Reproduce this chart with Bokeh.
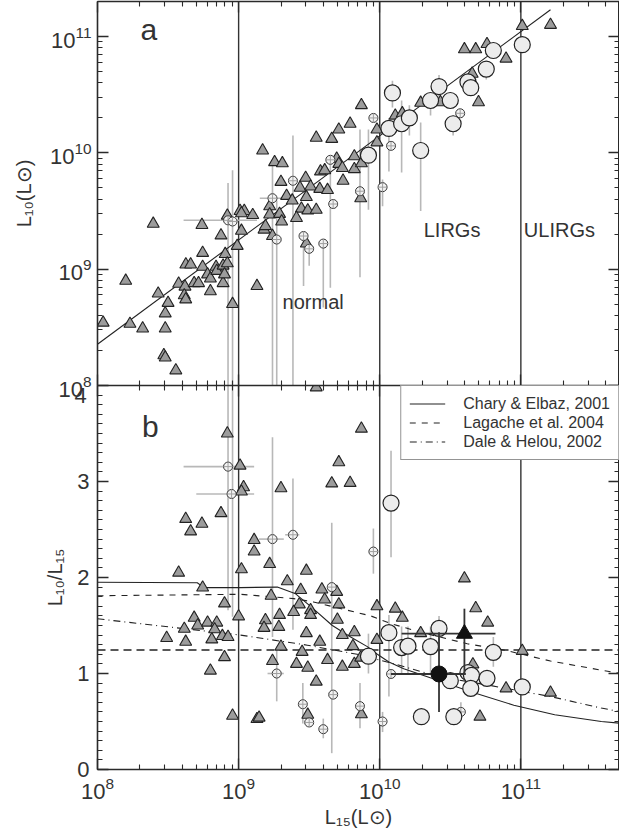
import numpy as np
from bokeh.plotting import figure
from bokeh.models import (LogAxis, LinearAxis, Range1d, FixedTicker, Title,
                          Label, Legend, LegendItem, CustomJSTickFormatter)
from bokeh.layouts import column
from bokeh.embed import file_html
from bokeh.resources import INLINE

FONT = "Liberation Sans"
INK = "#2a2a2a"
TXT = "#333333"

# ---------------- data (log10 luminosities) ----------------
# panel a: L10 vs L15, triangles
tri_a_log15 = [8.04, 8.20, 8.23, 8.32, 8.395, 8.43, 8.48, 8.48, 8.50, 8.47,
               8.48, 8.555, 8.575, 8.62, 8.615, 8.625, 8.626, 8.66, 8.685, 8.716,
               8.74, 8.745, 8.745, 8.78, 8.80, 8.80, 8.84, 8.845, 8.875, 8.89,
               8.89, 8.90, 8.905, 8.92, 8.92, 8.957, 8.99, 9.01, 9.04, 9.02,
               9.02, 9.10, 9.13,
               9.17, 9.255, 9.31, 9.30, 9.34, 9.38, 9.435, 9.475, 9.51, 9.48,
               9.445, 9.49, 9.55, 9.575, 9.63, 9.58, 9.61, 9.55, 9.66, 9.71,
               9.79, 9.87, 9.695, 9.71, 9.735, 9.74, 9.82, 9.82, 9.87, 9.865,
               9.98, 9.98, 9.22, 9.22, 9.18, 9.19, 9.24, 9.29, 9.305, 9.41,
               9.48,
               10.11, 10.16, 10.29, 10.43, 10.60, 10.68, 10.76, 10.655, 10.70, 10.895,
               11.01, 11.21]
tri_a_log10 = [8.54, 8.90, 8.53, 8.49, 9.39, 8.79, 8.49, 8.62, 8.71, 8.26,
               8.24, 8.13, 8.875, 8.85, 8.775, 8.74, 9.04, 9.04, 8.88, 8.88,
               9.38, 9.14, 9.02, 8.955, 8.92, 8.81, 9.02, 8.985, 9.29, 9.03,
               8.88, 8.955, 9.13, 9.05, 9.46, 8.70, 9.20, 9.50, 9.50, 9.33,
               9.48, 9.465, 8.855,
               10.02, 9.92, 9.91, 9.75, 9.63, 9.59, 9.70, 9.785, 9.71, 9.62,
               9.52, 9.505, 9.51, 9.69, 9.68, 9.84, 9.85, 10.13, 10.12, 10.20,
               10.25, 10.41, 9.95, 9.905, 9.87, 9.76, 9.97, 9.86, 9.91, 9.61,
               10.20, 10.09, 9.54, 9.47, 9.34, 9.37, 9.285, 9.475, 9.41, 9.44,
               9.22,
               10.32, 10.34, 10.43, 10.435, 10.89, 10.89, 10.935, 10.68, 10.435, 10.81,
               11.09, 11.10]
# panel a: small circles
circ_a_log15 = [8.925, 8.957, 9.24, 9.385, 9.65, 9.67, 9.86, 9.955, 10.02, 9.46, 9.50, 9.60, 9.27, 10.08, 10.57]
circ_a_log10 = [9.42, 9.41, 9.61, 9.76, 9.94, 9.56, 9.67, 10.30, 9.705, 9.285, 9.175, 9.22, 9.255, 10.06, 10.34]
# panel a: large circles
big_a_log15 = [10.09, 10.065, 10.155, 10.21, 10.29, 10.36, 10.42, 10.50, 10.52, 10.625, 10.645, 10.755, 10.805, 11.01, 9.92]
big_a_log10 = [10.515, 10.21, 10.25, 10.30, 10.02, 10.45, 10.57, 10.45, 10.25, 10.61, 10.56, 10.72, 10.88, 10.93, 9.98]
# panel a: error bars
vbar_a_log15 = [8.925, 8.957, 9.24, 9.27, 9.385, 9.46, 9.50, 9.60, 9.65, 9.86, 9.92, 10.02, 10.065, 10.155,
                10.21, 10.29, 10.36, 10.42, 10.52, 10.755, 10.09]
vbar_a_lo = [7.5, 7.5, 7.5, 7.5, 7.5, 8.855, 9.03, 8.67, 8.84, 8.93, 9.51, 9.54, 9.84, 9.83,
             10.15, 9.50, 10.32, 10.47, 10.15, 10.63, 10.39]
vbar_a_hi = [9.74, 9.85, 9.89, 9.59, 10.15, 9.30, 9.20, 9.21, 9.96, 10.20, 10.20, 9.77, 10.30, 10.45,
             10.41, 10.26, 10.50, 10.67, 10.32, 10.76, 10.62]
hbar_a_log10 = [9.42, 9.61]
hbar_a_lo = [8.61, 9.15]
hbar_a_hi = [9.13, 9.33]
# panel a: fitted relation
fit_log15 = [8.0, 11.21]
fit_log10 = [8.355, 11.23]

# panel b: L10/L15 vs L15
tri_b_log15 = [8.92, 9.01, 9.035, 9.02, 8.875, 8.625, 8.66, 8.74, 9.11, 9.11,
               8.575, 9.02, 8.745, 8.90, 9.00, 8.685, 8.71, 8.78, 8.845, 8.83,
               8.615, 8.49, 8.625, 8.81, 8.885, 8.925, 8.90, 8.80, 8.957, 9.13,
               9.87, 9.71, 9.66, 9.79, 9.30, 9.22, 9.48, 9.345, 9.44, 9.59,
               9.695, 9.23, 9.61, 9.43, 9.71, 9.39, 9.51, 9.51, 9.29, 9.19,
               9.70, 9.285, 9.18, 9.48, 9.82, 9.735, 9.575, 9.30, 9.45, 9.81,
               9.98, 9.98, 9.24, 9.41, 9.49, 9.63, 9.735, 9.82, 9.865, 9.55,
               9.145, 9.49, 9.87, 9.55,
               10.11, 10.16, 10.29, 10.60, 10.68, 10.765, 11.01, 10.66, 10.895, 11.21, 10.71]
tri_b_ratio = [3.50, 3.165, 2.94, 2.895, 2.67, 2.61, 2.48, 2.56, 2.39, 2.27,
               2.05, 2.085, 1.895, 1.73, 1.595, 1.58, 1.50, 1.53, 1.53, 1.46,
               1.465, 1.37, 1.33, 1.355, 1.39, 1.38, 1.17, 1.03, 0.56, 0.525,
               3.55, 3.20, 2.98, 2.985, 2.93, 2.14, 2.07, 1.96, 1.87, 1.875,
               1.85, 1.81, 1.77, 1.72, 1.72, 1.64, 1.66, 1.61, 1.61, 1.555,
               1.56, 1.485, 1.475, 1.42, 1.43, 1.40, 1.33, 1.28, 1.225, 1.285,
               1.35, 1.70, 1.13, 1.10, 1.06, 1.14, 1.07, 1.10, 1.165, 0.915,
               0.54, 0.57, 0.575, 3.98,
               1.675, 1.58, 1.42, 1.99, 1.68, 1.53, 1.235, 1.095, 0.845, 0.80, 0.55]
circ_b_log15 = [8.925, 8.95, 9.24, 9.385, 9.66, 9.955, 9.27, 9.455, 9.67, 9.86, 9.50, 9.60, 10.02, 10.08, 10.575]
circ_b_ratio = [3.155, 2.87, 2.40, 2.445, 1.90, 2.27, 1.00, 0.68, 0.78, 0.66, 0.49, 0.42, 0.50, 0.995, 0.60]
big_b_log15 = [10.08, 10.065, 10.155, 10.20, 10.36, 10.42, 10.805, 10.50, 10.625, 10.65, 10.645, 10.76, 11.01,
               10.295, 10.525, 9.92]
big_b_ratio = [2.775, 1.425, 1.27, 1.285, 1.28, 1.47, 1.22, 0.925, 1.01, 0.98, 0.845, 0.95, 0.86, 0.55, 0.55, 1.18]
vbar_b_log15 = [8.925, 8.957, 9.24, 9.385, 9.66, 9.955, 9.27, 9.455, 9.86, 9.60, 10.02, 9.92, 10.08, 10.065,
                10.155, 10.20, 10.36, 10.805, 10.575, 10.42]
vbar_b_lo = [1.66, 1.59, 1.38, 1.455, 0.17, 2.04, 0.71, 0.48, 0.43, 0.325, 0.39, 1.00, 2.21, 0.76,
             1.00, 1.00, 1.00, 1.07, 0.55, 1.20]
vbar_b_hi = [4.2, 4.2, 3.46, 3.03, 2.57, 2.51, 1.28, 0.90, 0.90, 0.53, 0.60, 1.415, 3.32, 1.61,
             1.49, 1.49, 1.49, 1.38, 0.70, 1.60]
hbar_b_ratio = [3.155, 2.87, 2.40, 2.445, 1.00]
hbar_b_lo = [8.61, 8.70, 9.145, 9.33, 9.205]
hbar_b_hi = [9.11, 9.11, 9.32, 9.43, 9.32]
# mean points (black) with errors: [value, low, high]
mean_circ_log15 = [10.42, 10.08, 10.61]
mean_circ_ratio = [0.995, 0.60, 1.43]
mean_tri_log15 = [10.60, 10.155, 10.82]
mean_tri_ratio = [1.415, 1.00, 1.675]
# model curves
ce_log15 = [8.0, 8.707, 8.754, 9.014, 9.274, 9.404, 9.51, 9.664, 9.794, 9.912, 9.983, 10.065, 10.17,
            10.41, 10.645, 10.95, 11.24, 11.57, 11.716]
ce_ratio = [1.95, 1.945, 1.895, 1.895, 1.90, 1.83, 1.70, 1.50, 1.38, 1.28, 1.20, 1.12, 1.05,
            0.93, 0.81, 0.67, 0.57, 0.50, 0.48]
lag_log15 = [8.0, 9.014, 9.39, 9.53, 9.936, 10.078, 10.29, 10.62, 10.88, 11.21, 11.57, 11.71]
lag_ratio = [1.81, 1.825, 1.78, 1.745, 1.60, 1.52, 1.43, 1.31, 1.245, 1.13, 1.035, 1.00]
dh_log15 = [8.0, 9.014, 9.487, 9.84, 10.08, 10.41, 10.765, 11.21, 11.57, 11.71]
dh_ratio = [1.57, 1.40, 1.295, 1.20, 1.11, 0.97, 0.88, 0.76, 0.64, 0.60]
mean_ratio_level = 1.245
class_limits = [1e9, 1e10, 1e11]
class_names = ["normal", "LIRGs", "ULIRGs"]
legend_labels = ["Chary & Elbaz, 2001", "Lagache et al. 2004", "Dale & Helou, 2002"]


def lin(a):
    return (10.0 ** np.asarray(a, dtype=float)).tolist()


X_LO, X_HI = 1e8, 5e11
Y_LO, Y_HI = 1e8, 2e11
R_LO, R_HI = 0.0, 4.0
x_range = Range1d(X_LO, X_HI)

log_minor = [m * 10.0 ** e for e in range(8, 12) for m in range(2, 10)]
x_ticker = FixedTicker(ticks=[1e8, 1e9, 1e10, 1e11], minor_ticks=log_minor)
ya_ticker = FixedTicker(ticks=[1e8, 1e9, 1e10, 1e11], minor_ticks=log_minor)
yb_ticker = FixedTicker(ticks=[0, 1, 2, 3, 4], minor_ticks=[i / 10 for i in range(0, 41)])

LEFT = 97
FW = 522
FH_TOP = 384
FH_BOT = 384
OVERLAP = 40
TICK_FS = "22px"


def style_axis(ax, labels=True):
    ax.major_tick_in = 11
    ax.major_tick_out = 0
    ax.minor_tick_in = 5
    ax.minor_tick_out = 0
    ax.axis_line_color = INK
    ax.axis_line_width = 1.6
    ax.major_tick_line_color = INK
    ax.minor_tick_line_color = INK
    ax.major_tick_line_width = 1.3
    ax.minor_tick_line_width = 1.1
    ax.major_label_text_font = FONT
    ax.major_label_text_font_size = TICK_FS
    ax.major_label_text_color = TXT
    ax.axis_label_text_font = FONT
    ax.axis_label_text_font_size = "20px"
    ax.axis_label_text_font_style = "normal"
    ax.axis_label_text_color = TXT
    if not labels:
        ax.formatter = CustomJSTickFormatter(code="return ''")
        ax.major_label_text_font_size = "1px"
        ax.major_label_standoff = 0
        ax.axis_label_standoff = 0


# ---------------- panel a ----------------
top = figure(frame_width=FW, frame_height=FH_TOP, x_axis_type="log", y_axis_type="log",
             x_range=x_range, y_range=Range1d(Y_LO, Y_HI),
             output_backend="svg", toolbar_location=None,
             min_border_left=LEFT, min_border_right=0, min_border_top=1, min_border_bottom=OVERLAP)
top.grid.visible = False
top.outline_line_color = INK
top.xaxis.ticker = x_ticker
top.yaxis.ticker = ya_ticker
style_axis(top.xaxis[0], labels=False)
style_axis(top.yaxis[0])
top.yaxis.axis_label = "L₁₀(L⊙)"
top.yaxis.major_label_standoff = 6
top.yaxis.axis_label_standoff = 12
ax = LogAxis(ticker=x_ticker)
style_axis(ax, labels=False)
top.add_layout(ax, "above")
ax = LogAxis(ticker=ya_ticker)
style_axis(ax, labels=False)
top.add_layout(ax, "right")
# top value ("4") of the ratio axis of panel b, drawn just under the panel boundary
top.add_layout(Title(text="4", align="left", offset=-23, standoff=0, text_font=FONT,
                     text_font_size=TICK_FS, text_font_style="normal", text_color=TXT), "below")

for xv in class_limits:
    top.segment(x0=[xv], y0=[Y_LO], x1=[xv], y1=[Y_HI], line_color="#333333", line_width=1.4)

top.segment(x0=lin(vbar_a_log15), y0=lin(vbar_a_lo), x1=lin(vbar_a_log15), y1=lin(vbar_a_hi),
            line_color="#b8b8b8", line_width=1.6)
top.segment(x0=lin(hbar_a_lo), y0=lin(hbar_a_log10), x1=lin(hbar_a_hi), y1=lin(hbar_a_log10),
            line_color="#b8b8b8", line_width=1.6)
top.line(lin(fit_log15), lin(fit_log10), line_color="#222222", line_width=1.1)

top.scatter(lin(tri_a_log15), lin(tri_a_log10), marker="triangle", size=12,
            fill_color="#9c9c9c", line_color="#222222", line_width=1.1)
top.scatter(lin(circ_a_log15), lin(circ_a_log10), marker="circle", size=9,
            fill_color="#f2f2f2", line_color="#333333", line_width=1.0)
top.scatter(lin(circ_a_log15), lin(circ_a_log10), marker="cross", size=9,
            line_color="#a0a0a0", line_width=1.0)
top.scatter(lin(big_a_log15), lin(big_a_log10), marker="circle", size=16,
            fill_color="#ececec", line_color="#222222", line_width=1.2)

top.add_layout(Label(x=2.02e8, y=8.3e10, text="a", text_font=FONT, text_font_size="30px",
                     text_color=TXT))
top.add_layout(Label(x=2.05e9, y=4.2e8, text=class_names[0], text_font=FONT, text_font_size="20px",
                     text_color=TXT))
top.add_layout(Label(x=2.05e10, y=1.74e9, text=class_names[1], text_font=FONT, text_font_size="20px",
                     text_color=TXT))
top.add_layout(Label(x=1.05e11, y=1.74e9, text=class_names[2], text_font=FONT, text_font_size="20px",
                     text_color=TXT))

# ---------------- panel b ----------------
bot = figure(frame_width=FW, frame_height=FH_BOT, x_axis_type="log",
             x_range=x_range, y_range=Range1d(R_LO, R_HI),
             output_backend="svg", toolbar_location=None,
             min_border_left=LEFT, min_border_right=0, min_border_top=0, min_border_bottom=0)
bot.margin = (-OVERLAP, 0, 0, 0)
bot.border_fill_alpha = 0.0
bot.grid.visible = False
bot.outline_line_color = INK
bot.xaxis.ticker = x_ticker
bot.yaxis.ticker = yb_ticker
style_axis(bot.xaxis[0])
style_axis(bot.yaxis[0])
bot.yaxis.formatter = CustomJSTickFormatter(code="return tick > 3.99 ? '' : tick.toFixed(0)")
bot.xaxis.axis_label = "L₁₅(L⊙)"
bot.yaxis.axis_label = "L₁₀/L₁₅"
bot.xaxis.major_label_standoff = 7
bot.xaxis.axis_label_standoff = 4
bot.yaxis.major_label_standoff = 8
bot.yaxis.axis_label_standoff = 8
ax = LogAxis(ticker=x_ticker)
style_axis(ax, labels=False)
bot.add_layout(ax, "above")
ax = LinearAxis(ticker=yb_ticker)
style_axis(ax, labels=False)
bot.add_layout(ax, "right")

for xv in class_limits:
    bot.segment(x0=[xv], y0=[R_LO], x1=[xv], y1=[R_HI], line_color="#333333", line_width=1.4)

bot.segment(x0=lin(vbar_b_log15), y0=vbar_b_lo, x1=lin(vbar_b_log15), y1=vbar_b_hi,
            line_color="#b8b8b8", line_width=1.6)
bot.segment(x0=lin(hbar_b_lo), y0=hbar_b_ratio, x1=lin(hbar_b_hi), y1=hbar_b_ratio,
            line_color="#b8b8b8", line_width=1.6)

bot.segment(x0=[X_LO], y0=[mean_ratio_level], x1=[X_HI], y1=[mean_ratio_level],
            line_color="#222222", line_width=1.4, line_dash="8 5")
r_ce = bot.line(lin(ce_log15), ce_ratio, line_color="#222222", line_width=1.1)
r_lag = bot.line(lin(lag_log15), lag_ratio, line_color="#222222", line_width=1.1, line_dash="6 6")
r_dh = bot.line(lin(dh_log15), dh_ratio, line_color="#222222", line_width=1.1, line_dash="7 4 1 4")

bot.scatter(lin(tri_b_log15), tri_b_ratio, marker="triangle", size=12,
            fill_color="#9c9c9c", line_color="#222222", line_width=1.1)
bot.scatter(lin(circ_b_log15), circ_b_ratio, marker="circle", size=9,
            fill_color="#f2f2f2", line_color="#333333", line_width=1.0)
bot.scatter(lin(circ_b_log15), circ_b_ratio, marker="cross", size=9,
            line_color="#a0a0a0", line_width=1.0)
bot.scatter(lin(big_b_log15), big_b_ratio, marker="circle", size=16,
            fill_color="#ececec", line_color="#222222", line_width=1.2)

mc = lin(mean_circ_log15)
mt = lin(mean_tri_log15)
bot.segment(x0=[mc[1], mc[0], mt[1], mt[0]],
            y0=[mean_circ_ratio[0], mean_circ_ratio[1], mean_tri_ratio[0], mean_tri_ratio[1]],
            x1=[mc[2], mc[0], mt[2], mt[0]],
            y1=[mean_circ_ratio[0], mean_circ_ratio[2], mean_tri_ratio[0], mean_tri_ratio[2]],
            line_color="#333333", line_width=1.8)
bot.scatter([mc[0]], [mean_circ_ratio[0]], marker="circle", size=16, fill_color="#111111",
            line_color="#111111")
bot.scatter([mt[0]], [mean_tri_ratio[0]], marker="triangle", size=16, fill_color="#111111",
            line_color="#111111")

bot.add_layout(Label(x=2.07e8, y=3.40, text="b", text_font=FONT, text_font_size="30px",
                     text_color=TXT))

legend = Legend(items=[LegendItem(label=legend_labels[0], renderers=[r_ce]),
                       LegendItem(label=legend_labels[1], renderers=[r_lag]),
                       LegendItem(label=legend_labels[2], renderers=[r_dh])],
                location="top_right", margin=0, padding=8, spacing=0,
                glyph_width=36, glyph_height=19, label_height=19, label_standoff=18,
                label_text_font=FONT, label_text_font_size="16px", label_text_color=TXT,
                border_line_color=INK, border_line_width=1.5,
                background_fill_color="white", background_fill_alpha=1.0)
bot.add_layout(legend)

layout = column(top, bot, spacing=0)
open("out.html", "w").write(file_html(layout, INLINE))
